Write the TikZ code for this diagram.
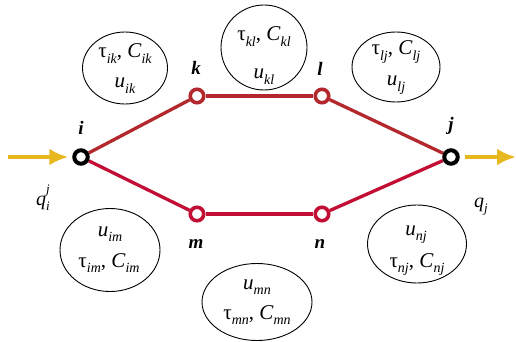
\documentclass[tikz,border=0pt]{standalone}
\usepackage{fontspec}
\setmainfont{Liberation Serif}
\usetikzlibrary{shapes.geometric,arrows.meta,backgrounds}
\definecolor{upred}{RGB}{178,40,45}
\definecolor{lowred}{RGB}{194,14,52}
\definecolor{flowyel}{RGB}{230,184,30}
\newcommand{\lsub}[1]{\raisebox{-0.28em}{\fontsize{14}{14}\selectfont\itshape #1}}
\tikzset{
  term/.style={circle, draw=black, line width=4pt, fill=white, minimum size=13.5pt, inner sep=0pt},
  midnode/.style={circle, line width=3.6pt, fill=white, minimum size=13.5pt, inner sep=0pt},
  attr/.style={ellipse, draw=black, line width=0.9pt, inner sep=0pt},
  attrtext/.style={anchor=base, inner sep=0pt, font=\fontsize{21}{24}\selectfont},
  lab/.style={anchor=base, inner sep=0pt, font=\fontsize{19}{22}\selectfont\bfseries\itshape},
  qlab/.style={anchor=base west, inner sep=0pt, font=\fontsize{20}{23}\selectfont\itshape},
  uplink/.style={draw=upred, line width=3.3pt},
  lowlink/.style={draw=lowred, line width=3.3pt},
  flow/.style={draw=flowyel, line width=3.8pt, -{Latex[length=19pt,width=17pt]}},
}
\begin{document}
\begin{tikzpicture}[x=1pt,y=-1pt]
\useasboundingbox (0,0) rectangle (516,342);
% route nodes
\node[term] (i) at (81,157) {};
\node[term] (j) at (451,157) {};
\node[midnode, draw=upred] (k) at (197,96) {};
\node[midnode, draw=upred] (l) at (322,96) {};
\node[midnode, draw=lowred] (m) at (197,214) {};
\node[midnode, draw=lowred] (n) at (322,214) {};
\coordinate (qin) at (8,157);
\coordinate (qout) at (516,157);
\begin{scope}[on background layer]
  \path[uplink] (i) -- (k);
  \path[uplink] (k) -- (l);
  \path[uplink] (l) -- (j);
  \path[lowlink] (i) -- (m);
  \path[lowlink] (m) -- (n);
  \path[lowlink] (n) -- (j);
\end{scope}
\path[flow, shorten >=4pt] (qin) -- (i);
\path[flow, shorten <=5pt] (j) -- (qout);
% node labels
\node[lab] (li) at (81,135) {i};
\node[lab] (lk) at (196,75) {k};
\node[lab] (ll) at (320,76) {l};
\node[lab] (lj) at (451,130) {j};
\node[lab] (lm) at (196,248) {m};
\node[lab] (ln) at (320,248) {n};
\node[qlab] (qi) at (36,205) {q\rlap{\raisebox{0.6em}{\fontsize{13}{13}\selectfont j}}\raisebox{-0.25em}{\fontsize{13}{13}\selectfont i}};
\node[qlab] (qj) at (474,207) {q\raisebox{-0.25em}{\fontsize{13}{13}\selectfont j}};
% attribute ellipses
\node[attr, minimum width=85pt, minimum height=72pt] (eik) at (125,68) {};
\node[attr, minimum width=86pt, minimum height=85pt] (ekl) at (264,47.5) {};
\node[attr, minimum width=88pt, minimum height=70pt] (elj) at (396,67) {};
\node[attr, minimum width=100pt, minimum height=83pt] (eim) at (110,250) {};
\node[attr, minimum width=110pt, minimum height=77pt] (emn) at (257,302) {};
\node[attr, minimum width=99pt, minimum height=78pt] (enj) at (417,244) {};
% attribute texts
\node[attrtext] (tik1) at (125,58) {τ\lsub{ik}, \textit{C}\lsub{ik}};
\node[attrtext] (tik2) at (125,88) {\textit{u}\lsub{ik}};
\node[attrtext] (tkl1) at (264,41) {τ\lsub{kl}, \textit{C}\lsub{kl}};
\node[attrtext] (tkl2) at (264,79) {\textit{u}\lsub{kl}};
\node[attrtext] (tlj1) at (396,55) {τ\lsub{lj}, \textit{C}\lsub{lj}};
\node[attrtext] (tlj2) at (396,86) {\textit{u}\lsub{lj}};
\node[attrtext] (tim1) at (110,236) {\textit{u}\lsub{im}};
\node[attrtext] (tim2) at (109,267) {τ\lsub{im}, \textit{C}\lsub{im}};
\node[attrtext] (tmn1) at (257,289) {\textit{u}\lsub{mn}};
\node[attrtext] (tmn2) at (257,319) {τ\lsub{mn}, \textit{C}\lsub{mn}};
\node[attrtext] (tnj1) at (416,235) {\textit{u}\lsub{nj}};
\node[attrtext] (tnj2) at (417,267) {τ\lsub{nj}, \textit{C}\lsub{nj}};
\end{tikzpicture}
\end{document}
